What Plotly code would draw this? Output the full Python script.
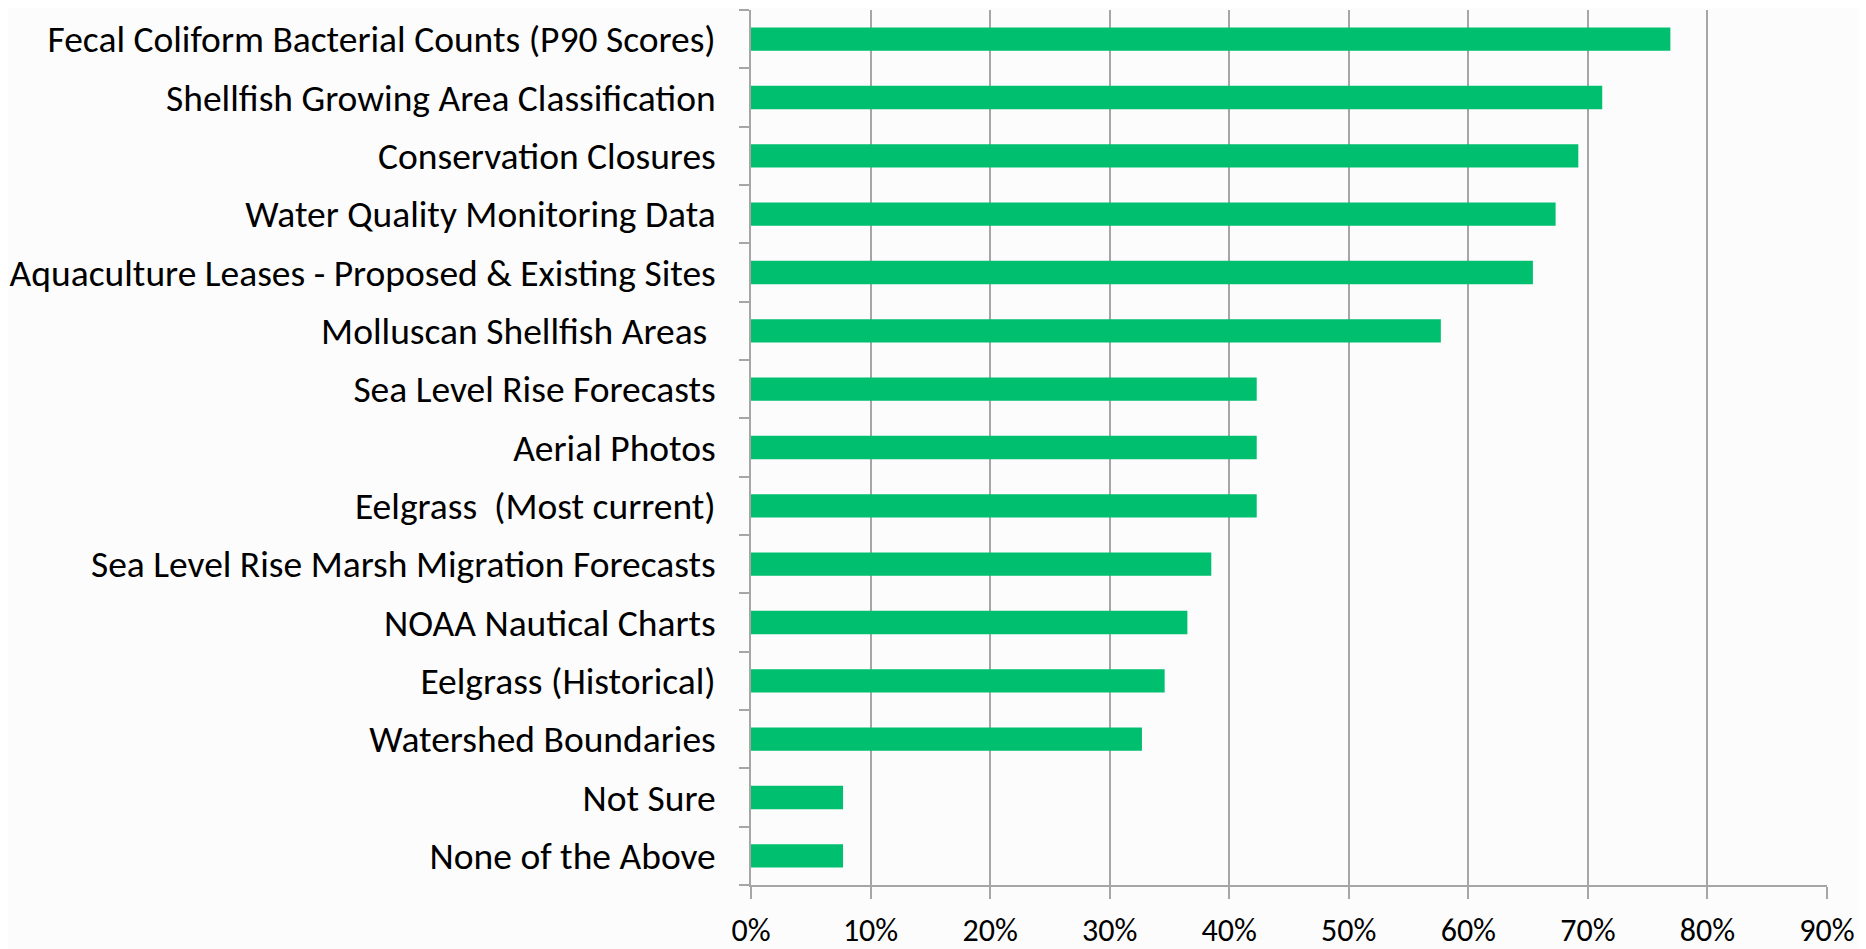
import plotly.graph_objects as go

categories = [
    "Fecal Coliform Bacterial Counts (P90 Scores)",
    "Shellfish Growing Area Classification",
    "Conservation Closures",
    "Water Quality Monitoring Data",
    "Aquaculture Leases - Proposed & Existing Sites",
    "Molluscan Shellfish Areas ",
    "Sea Level Rise Forecasts",
    "Aerial Photos",
    "Eelgrass  (Most current)",
    "Sea Level Rise Marsh Migration Forecasts",
    "NOAA Nautical Charts",
    "Eelgrass (Historical)",
    "Watershed Boundaries",
    "Not Sure",
    "None of the Above",
]
values = [0.769, 0.712, 0.692, 0.673, 0.654, 0.577, 0.423, 0.423, 0.423,
          0.385, 0.365, 0.346, 0.327, 0.077, 0.077]

tick_vals = [0, 0.1, 0.2, 0.3, 0.4, 0.5, 0.6, 0.7, 0.8, 0.9]
tick_text = ["0%", "10%", "20%", "30%", "40%", "50%", "60%", "70%", "80%", "90%"]

FONT = "Carlito, Calibri, Lato, sans-serif"

fig = go.Figure(go.Bar(
    x=values,
    y=categories,
    orientation="h",
    marker=dict(color="#00BF6F", line=dict(width=0)),
    hoverinfo="x+y",
))

fig.update_layout(
    width=1858, height=941,
    margin=dict(l=743, r=39, t=2, b=64, autoexpand=False),
    paper_bgcolor="#fcfcfc",
    plot_bgcolor="#fcfcfc",
    bargap=0.6,
    showlegend=False,
    font=dict(family=FONT, size=30, color="#000000"),
)
fig.update_xaxes(
    range=[0, 0.9], automargin=False,
    tickvals=tick_vals, ticktext=tick_text,
    showgrid=True, gridcolor="#a6a6a6", gridwidth=1.5,
    zeroline=False,
    showline=True, linecolor="#a6a6a6", linewidth=2,
    ticks="outside", ticklen=12, tickcolor="#a6a6a6", tickwidth=1.5,
    ticklabelstandoff=4,
    tickfont=dict(family=FONT, size=32, color="#000000"),
)
fig.update_yaxes(
    categoryorder="array", categoryarray=categories[::-1],
    autorange=False, range=[-0.5, 14.5], automargin=False,
    showgrid=False, zeroline=False,
    showline=True, linecolor="#a6a6a6", linewidth=1.5,
    ticks="outside", tickson="boundaries", ticklen=10,
    tickcolor="#a6a6a6", tickwidth=1.5,
    ticklabelstandoff=26,
    tickfont=dict(family=FONT, size=37.5, color="#000000"),
)

fig.write_html("out.html")
